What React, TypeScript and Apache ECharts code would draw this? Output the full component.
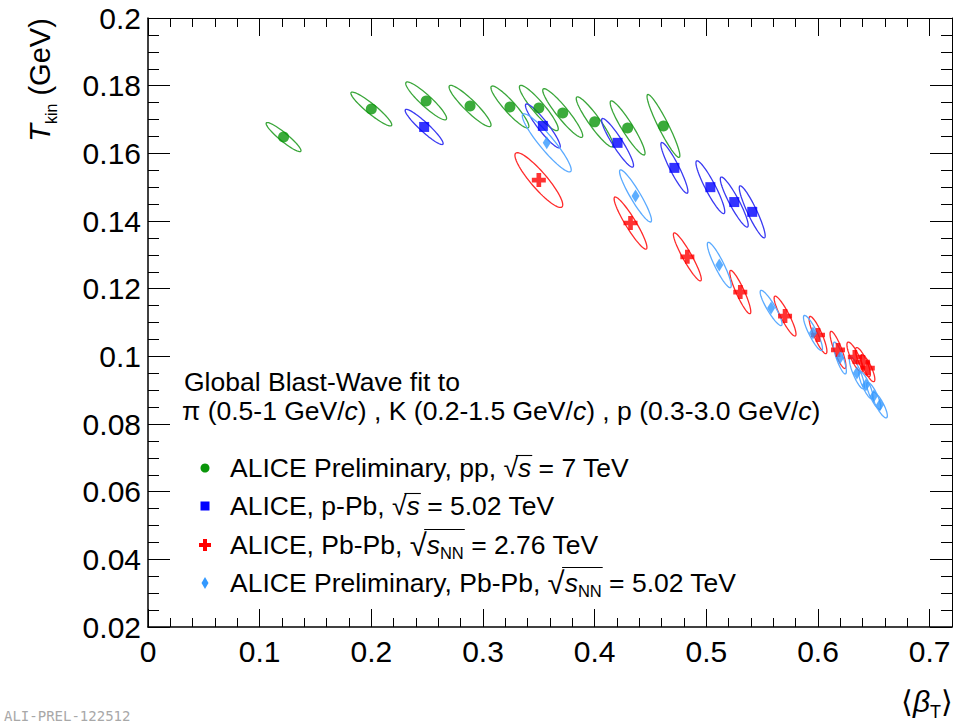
import React, { useEffect, useRef } from "react";
import * as echarts from "echarts";

// ---------- data ----------
// pp, sqrt(s) = 7 TeV (ALICE Preliminary)
const ppBeta = [0.1214, 0.2, 0.2491, 0.2884, 0.3241, 0.35, 0.3714, 0.4, 0.4295, 0.4616];
const ppT = [0.1648, 0.1731, 0.1755, 0.174, 0.1737, 0.1734, 0.1719, 0.1693, 0.1675, 0.1681];
const ppDBeta = [0.0156, 0.0183, 0.0183, 0.0188, 0.017, 0.0174, 0.0179, 0.0165, 0.0156, 0.0147];
const ppDT = [0.0043, 0.005, 0.0056, 0.0061, 0.0062, 0.0067, 0.0072, 0.0074, 0.008, 0.0093];
const ppRho = [-0.93, -0.93, -0.92, -0.92, -0.92, -0.92, -0.93, -0.93, -0.93, -0.94];

// p-Pb, sqrt(s) = 5.02 TeV
const pPbBeta = [0.2473, 0.3536, 0.4205, 0.4714, 0.5036, 0.525, 0.5411];
const pPbT = [0.1678, 0.1681, 0.1631, 0.1557, 0.15, 0.1456, 0.1427];
const pPbDBeta = [0.017, 0.0156, 0.0143, 0.0121, 0.0129, 0.0125, 0.0116];
const pPbDT = [0.0052, 0.0065, 0.0072, 0.0075, 0.0078, 0.0074, 0.0077];
const pPbRho = [-0.937, -0.93, -0.93, -0.926, -0.92, -0.92, -0.92];

// Pb-Pb, sqrt(sNN) = 2.76 TeV
const pb276Beta = [0.35, 0.4321, 0.483, 0.5304, 0.5705, 0.6, 0.6179, 0.633, 0.6402, 0.6446];
const pb276T = [0.1521, 0.1394, 0.1294, 0.119, 0.1119, 0.1063, 0.1019, 0.0998, 0.0983, 0.0965];
const pb276DBeta = [0.0214, 0.0147, 0.0125, 0.0094, 0.0098, 0.008, 0.0071, 0.0071, 0.0067, 0.0063];
const pb276DT = [0.0081, 0.0077, 0.0071, 0.0064, 0.0059, 0.0055, 0.0055, 0.0044, 0.0043, 0.004];
const pb276Rho = [-0.9, -0.93, -0.93, -0.905, -0.9, -0.87, -0.86, -0.82, -0.82, -0.82];

// Pb-Pb, sqrt(sNN) = 5.02 TeV (ALICE Preliminary)
const pb502Beta = [0.3571, 0.4366, 0.5116, 0.558, 0.5955, 0.6196, 0.6348, 0.6429, 0.65, 0.6554];
const pb502T = [0.1631, 0.1474, 0.127, 0.1143, 0.1069, 0.0995, 0.0951, 0.0915, 0.0883, 0.0856];
const pb502DBeta = [0.0219, 0.0143, 0.0107, 0.0098, 0.0085, 0.0058, 0.0067, 0.0063, 0.0063, 0.0067];
const pb502DT = [0.0086, 0.0077, 0.0067, 0.0052, 0.0052, 0.0047, 0.0047, 0.0041, 0.004, 0.0038];
const pb502Rho = [-0.927, -0.93, -0.906, -0.9, -0.88, -0.83, -0.83, -0.83, -0.83, -0.83];

const xTicks = { min: 0, max: 0.72, major: 0.1, minor: 0.02 };
const yTicks = { min: 0.02, max: 0.2, major: 0.02 };

// ---------- styles ----------
const FONT = '"Liberation Sans", Arial, Helvetica, sans-serif';
const GREEN = "#0a960a";
const GREEN_L = "#3aa63a";
const BLUE = "#0000ff";
const BLUE_L = "#3a3af2";
const RED = "#ff0000";
const RED_L = "#ff2a2a";
const AZURE = "#3399ff";
const AZURE_L = "#5aaaff";
const CROSS = "path://M4,0 H8 V4 H12 V8 H8 V12 H4 V8 H0 V4 H4 Z";

const pts = (b: number[], t: number[]) => b.map((v, i) => [v, t[i]]);
const ell = (b: number[], t: number[], db: number[], dt: number[], r: number[]) =>
  b.map((v, i) => [v, t[i], db[i], dt[i], r[i]]);

const ellipseSeries = (name: string, data: number[][], color: string) => ({
  type: "custom",
  name,
  xAxisIndex: 0,
  yAxisIndex: 0,
  silent: true,
  z: 2,
  data,
  encode: { x: 0, y: 1 },
  renderItem: (_p: any, api: any) => {
    const cx = api.value(0), cy = api.value(1), sx = api.value(2), sy = api.value(3), r = api.value(4);
    const s = Math.sqrt(1 - r * r);
    const points: number[][] = [];
    const N = 72;
    for (let k = 0; k < N; k++) {
      const a = (2 * Math.PI * k) / N;
      points.push(api.coord([cx + sx * Math.cos(a), cy + sy * (r * Math.cos(a) + s * Math.sin(a))]));
    }
    return {
      type: "polygon",
      shape: { points },
      style: { fill: "none", stroke: color, lineWidth: 1.3 },
    };
  },
});

const fmt = (v: number) => (v > 0.705 && v < 0.75 ? "" : String(parseFloat(v.toFixed(3))));

export default function App() {
  const ref = useRef<HTMLDivElement>(null);
  useEffect(() => {
    document.body.style.margin = "0";
    const chart = echarts.init(ref.current!, undefined, { renderer: "svg" });

    const canvas = document.createElement("canvas");
    const ctx = canvas.getContext("2d")!;
    const mw = (txt: string, size: number, italic = false) => {
      ctx.font = `${italic ? "italic " : ""}${size}px ${FONT}`;
      return ctx.measureText(txt).width;
    };

    const LX = 230;
    const MX = 205;
    const FS = 26.5;
    const SUB = 16.5;
    const ROOT_BIG = 31;
    const rows = [
      { prefix: "ALICE Preliminary, pp, ", nn: false, suffix: " = 7 TeV", y: 468, color: GREEN, m: "circle" },
      { prefix: "ALICE, p-Pb, ", nn: false, suffix: " = 5.02 TeV", y: 506, color: BLUE, m: "rect" },
      { prefix: "ALICE, Pb-Pb, ", nn: true, suffix: " = 2.76 TeV", y: 545, color: RED, m: "cross" },
      { prefix: "ALICE Preliminary, Pb-Pb, ", nn: true, suffix: " = 5.02 TeV", y: 583, color: AZURE, m: "diamond" },
    ];
    const rich = {
      n: { fontSize: FS, fontFamily: FONT, fill: "#000", lineHeight: 33 },
      r: { fontSize: FS, fontFamily: FONT, fill: "#000", lineHeight: 33 },
      R: { fontSize: ROOT_BIG, fontFamily: FONT, fill: "#000", lineHeight: 33 },
      i: { fontSize: FS, fontFamily: FONT, fontStyle: "italic", fill: "#000", lineHeight: 33 },
      sub: { fontSize: SUB, fontFamily: FONT, fill: "#000", lineHeight: 15, verticalAlign: "bottom" },
    };
    const graphics: any[] = [];
    rows.forEach((row) => {
      const rs = row.nn ? ROOT_BIG : FS;
      graphics.push({
        type: "text",
        x: LX,
        y: row.y,
        style: {
          text: `{n|${row.prefix}}{${row.nn ? "R" : "r"}|√}{i|s}${row.nn ? "{sub|NN}" : ""}{n|${row.suffix}}`,
          rich,
          verticalAlign: "middle",
          align: "left",
        },
      });
      const wp = mw(row.prefix, FS);
      const wr = mw("√", rs);
      const ws = mw("s", FS, true);
      const wn = row.nn ? mw("NN", SUB) : 0;
      const x0 = LX + wp + wr * 0.85;
      const x1 = LX + wp + wr + ws + wn + 1;
      const oy = row.y - (row.nn ? 15.5 : 12.5);
      graphics.push({ type: "line", shape: { x1: x0, y1: oy, x2: x1, y2: oy }, style: { stroke: "#000", lineWidth: 1.1 } });
      if (row.m === "circle") {
        graphics.push({ type: "circle", shape: { cx: MX, cy: row.y, r: 4.5 }, style: { fill: row.color } });
      } else if (row.m === "rect") {
        graphics.push({ type: "rect", shape: { x: MX - 4.5, y: row.y - 4.5, width: 9, height: 9 }, style: { fill: row.color } });
      } else if (row.m === "cross") {
        const a = 6, h = 2;
        graphics.push({
          type: "polygon",
          shape: {
            points: [
              [MX - h, row.y - a], [MX + h, row.y - a], [MX + h, row.y - h], [MX + a, row.y - h],
              [MX + a, row.y + h], [MX + h, row.y + h], [MX + h, row.y + a], [MX - h, row.y + a],
              [MX - h, row.y + h], [MX - a, row.y + h], [MX - a, row.y - h], [MX - h, row.y - h],
            ],
          },
          style: { fill: row.color },
        });
      } else {
        graphics.push({
          type: "polygon",
          shape: { points: [[MX, row.y - 6], [MX + 3.5, row.y], [MX, row.y + 6], [MX - 3.5, row.y]] },
          style: { fill: row.color },
        });
      }
    });

    // fit description
    graphics.push({
      type: "text",
      x: 184,
      y: 382,
      style: { text: "Global Blast-Wave fit to", font: `${FS}px ${FONT}`, fill: "#000", verticalAlign: "middle" },
    });
    graphics.push({
      type: "text",
      x: 182,
      y: 411,
      style: {
        text: "{n|π (0.5-1 GeV/}{i|c}{n|) , K (0.2-1.5 GeV/}{i|c}{n|) , p (0.3-3.0 GeV/}{i|c}{n|)}",
        rich,
        verticalAlign: "middle",
      },
    });

    // y axis title
    graphics.push({
      type: "text",
      x: 40,
      y: 80,
      rotation: Math.PI / 2,
      style: {
        text: "{it|T}{sub|kin}{n| (GeV)}",
        rich: {
          it: { fontSize: 29, fontFamily: FONT, fontStyle: "italic", fill: "#000", lineHeight: 38 },
          sub: { fontSize: 16, fontFamily: FONT, fill: "#000", lineHeight: 15, verticalAlign: "bottom" },
          n: { fontSize: 29, fontFamily: FONT, fill: "#000", lineHeight: 38 },
        },
        align: "center",
        verticalAlign: "middle",
      },
    });
    // x axis title
    graphics.push({
      type: "text",
      x: 953,
      y: 701,
      style: {
        text: "{n|⟨}{it|β}{sub|T}{n|⟩}",
        rich: {
          it: { fontSize: 30, fontFamily: FONT, fontStyle: "italic", fill: "#000", lineHeight: 40 },
          sub: { fontSize: 18, fontFamily: FONT, fill: "#000", lineHeight: 16, verticalAlign: "bottom" },
          n: { fontSize: 30, fontFamily: FONT, fill: "#000", lineHeight: 40 },
        },
        align: "right",
        verticalAlign: "middle",
      },
    });
    // watermark
    graphics.push({
      type: "text",
      x: 4,
      y: 709,
      style: { text: "ALI-PREL-122512", font: '14px "DejaVu Sans Mono", monospace', fill: "#a8a8a8", verticalAlign: "top" },
    });

    const axisLineX = (show: boolean, width: number) => ({
      show,
      onZero: false,
      lineStyle: { color: "#000", width },
    });
    const xBase = { type: "value", min: xTicks.min, max: xTicks.max, splitLine: { show: false } };
    const yBase = { type: "value", min: yTicks.min, max: yTicks.max, interval: yTicks.major, splitLine: { show: false } };

    chart.setOption({
      animation: false,
      grid: { left: 148, right: 15, top: 18, bottom: 98, containLabel: false },
      xAxis: [
        {
          ...xBase,
          position: "bottom",
          interval: xTicks.major,
          axisLine: axisLineX(true, 1.5),
          axisTick: { inside: true, length: 18, lineStyle: { color: "#000", width: 1 } },
          axisLabel: { fontSize: 30, color: "#000", fontFamily: FONT, margin: 9, formatter: fmt },
        },
        {
          ...xBase,
          position: "bottom",
          interval: xTicks.minor,
          axisLine: { show: false },
          axisTick: { inside: true, length: 9, lineStyle: { color: "#000", width: 1 } },
          axisLabel: { show: false },
        },
        {
          ...xBase,
          position: "top",
          interval: xTicks.major,
          axisLine: axisLineX(true, 1),
          axisTick: { inside: true, length: 18, lineStyle: { color: "#000", width: 1 } },
          axisLabel: { show: false },
        },
        {
          ...xBase,
          position: "top",
          interval: xTicks.minor,
          axisLine: { show: false },
          axisTick: { inside: true, length: 9, lineStyle: { color: "#000", width: 1 } },
          axisLabel: { show: false },
        },
      ],
      yAxis: [
        {
          ...yBase,
          position: "left",
          axisLine: axisLineX(true, 1.5),
          axisTick: { inside: true, length: 22, lineStyle: { color: "#000", width: 1 } },
          minorTick: { show: true, splitNumber: 4, length: 11, lineStyle: { color: "#000", width: 1 } },
          axisLabel: { fontSize: 30, color: "#000", fontFamily: FONT, margin: 7, formatter: fmt },
        },
        {
          ...yBase,
          position: "right",
          axisLine: axisLineX(true, 1),
          axisTick: { inside: true, length: 22, lineStyle: { color: "#000", width: 1 } },
          minorTick: { show: true, splitNumber: 4, length: 11, lineStyle: { color: "#000", width: 1 } },
          axisLabel: { show: false },
        },
      ],
      series: [
        ellipseSeries("pp ellipses", ell(ppBeta, ppT, ppDBeta, ppDT, ppRho), GREEN_L),
        ellipseSeries("p-Pb ellipses", ell(pPbBeta, pPbT, pPbDBeta, pPbDT, pPbRho), BLUE_L),
        ellipseSeries("Pb-Pb 2.76 ellipses", ell(pb276Beta, pb276T, pb276DBeta, pb276DT, pb276Rho), RED_L),
        ellipseSeries("Pb-Pb 5.02 ellipses", ell(pb502Beta, pb502T, pb502DBeta, pb502DT, pb502Rho), AZURE_L),
        {
          type: "scatter", name: "ALICE Preliminary, pp, √s = 7 TeV", xAxisIndex: 0, yAxisIndex: 0, z: 3,
          symbol: "circle", symbolSize: 11, itemStyle: { color: GREEN }, data: pts(ppBeta, ppT),
        },
        {
          type: "scatter", name: "ALICE, p-Pb, √s = 5.02 TeV", xAxisIndex: 0, yAxisIndex: 0, z: 3,
          symbol: "rect", symbolSize: 10, itemStyle: { color: BLUE }, data: pts(pPbBeta, pPbT),
        },
        {
          type: "scatter", name: "ALICE, Pb-Pb, √sNN = 2.76 TeV", xAxisIndex: 0, yAxisIndex: 0, z: 3,
          symbol: CROSS, symbolSize: 14, itemStyle: { color: RED }, data: pts(pb276Beta, pb276T),
        },
        {
          type: "scatter", name: "ALICE Preliminary, Pb-Pb, √sNN = 5.02 TeV", xAxisIndex: 0, yAxisIndex: 0, z: 3,
          symbol: "diamond", symbolSize: [8, 13], itemStyle: { color: AZURE }, data: pts(pb502Beta, pb502T),
        },
      ],
      graphic: graphics,
    });
    return () => chart.dispose();
  }, []);
  return <div ref={ref} style={{ width: 967, height: 725 }} />;
}
